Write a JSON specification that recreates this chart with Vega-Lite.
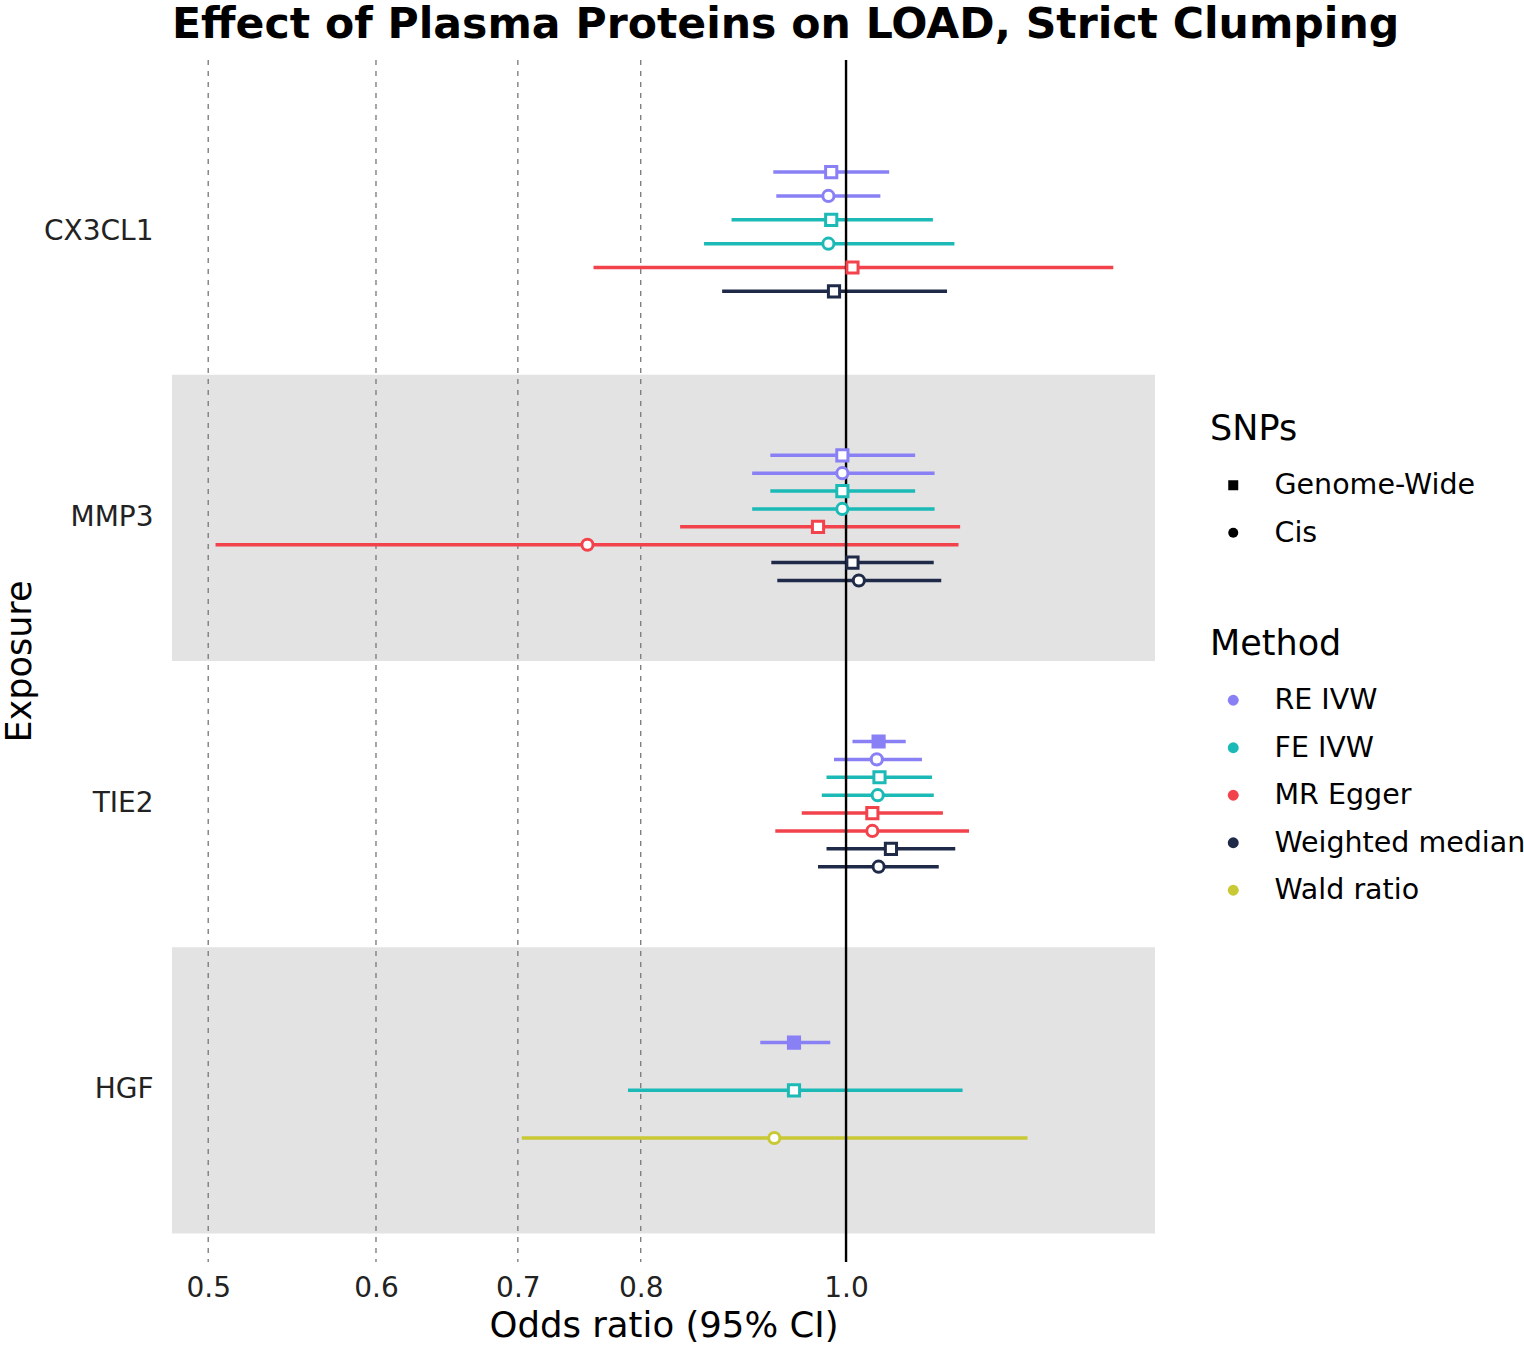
{
  "$schema": "https://vega.github.io/schema/vega-lite/v6.json",
  "width": 983,
  "height": 1202,
  "autosize": "none",
  "padding": {"left": 172, "top": 60, "right": 369, "bottom": 84},
  "background": "white",
  "title": {
    "text": "Effect of Plasma Proteins on LOAD, Strict Clumping",
    "anchor": "start",
    "frame": "group",
    "font": "DejaVu Sans",
    "fontSize": 42.6,
    "fontWeight": "bold",
    "color": "black",
    "offset": 12
  },
  "config": {
    "view": {"stroke": null},
    "font": "DejaVu Sans",
    "axis": {"grid": false, "domain": false, "ticks": false, "labelFont": "DejaVu Sans", "titleFont": "DejaVu Sans", "titleFontWeight": "normal", "titleColor": "black", "labelColor": "#222222"},
    "legend": {"labelLimit": 0}
  },
  "datasets": {
    "est": [
      {"Exposure": "CX3CL1", "Method": "RE IVW", "SNPs": "Genome-Wide", "Analysis": "RE IVW (Genome-Wide)", "OR": 0.984, "lo": 0.924, "hi": 1.048},
      {"Exposure": "CX3CL1", "Method": "RE IVW", "SNPs": "Cis", "Analysis": "RE IVW (Cis)", "OR": 0.981, "lo": 0.927, "hi": 1.038},
      {"Exposure": "CX3CL1", "Method": "FE IVW", "SNPs": "Genome-Wide", "Analysis": "FE IVW (Genome-Wide)", "OR": 0.984, "lo": 0.883, "hi": 1.099},
      {"Exposure": "CX3CL1", "Method": "FE IVW", "SNPs": "Cis", "Analysis": "FE IVW (Cis)", "OR": 0.981, "lo": 0.857, "hi": 1.125},
      {"Exposure": "CX3CL1", "Method": "MR Egger", "SNPs": "Genome-Wide", "Analysis": "MR Egger (Genome-Wide)", "OR": 1.007, "lo": 0.760, "hi": 1.337},
      {"Exposure": "CX3CL1", "Method": "Weighted median", "SNPs": "Genome-Wide", "Analysis": "Weighted median (Genome-Wide)", "OR": 0.987, "lo": 0.874, "hi": 1.116},
      {"Exposure": "MMP3", "Method": "RE IVW", "SNPs": "Genome-Wide", "Analysis": "RE IVW (Genome-Wide)", "OR": 0.996, "lo": 0.921, "hi": 1.078},
      {"Exposure": "MMP3", "Method": "RE IVW", "SNPs": "Cis", "Analysis": "RE IVW (Cis)", "OR": 0.996, "lo": 0.903, "hi": 1.101},
      {"Exposure": "MMP3", "Method": "FE IVW", "SNPs": "Genome-Wide", "Analysis": "FE IVW (Genome-Wide)", "OR": 0.996, "lo": 0.921, "hi": 1.078},
      {"Exposure": "MMP3", "Method": "FE IVW", "SNPs": "Cis", "Analysis": "FE IVW (Cis)", "OR": 0.996, "lo": 0.903, "hi": 1.101},
      {"Exposure": "MMP3", "Method": "MR Egger", "SNPs": "Genome-Wide", "Analysis": "MR Egger (Genome-Wide)", "OR": 0.970, "lo": 0.835, "hi": 1.132},
      {"Exposure": "MMP3", "Method": "MR Egger", "SNPs": "Cis", "Analysis": "MR Egger (Cis)", "OR": 0.755, "lo": 0.504, "hi": 1.130},
      {"Exposure": "MMP3", "Method": "Weighted median", "SNPs": "Genome-Wide", "Analysis": "Weighted median (Genome-Wide)", "OR": 1.007, "lo": 0.922, "hi": 1.100},
      {"Exposure": "MMP3", "Method": "Weighted median", "SNPs": "Cis", "Analysis": "Weighted median (Cis)", "OR": 1.014, "lo": 0.928, "hi": 1.109},
      {"Exposure": "TIE2", "Method": "RE IVW", "SNPs": "Genome-Wide", "Analysis": "RE IVW (Genome-Wide)", "OR": 1.036, "lo": 1.007, "hi": 1.067},
      {"Exposure": "TIE2", "Method": "RE IVW", "SNPs": "Cis", "Analysis": "RE IVW (Cis)", "OR": 1.034, "lo": 0.987, "hi": 1.086},
      {"Exposure": "TIE2", "Method": "FE IVW", "SNPs": "Genome-Wide", "Analysis": "FE IVW (Genome-Wide)", "OR": 1.037, "lo": 0.979, "hi": 1.098},
      {"Exposure": "TIE2", "Method": "FE IVW", "SNPs": "Cis", "Analysis": "FE IVW (Cis)", "OR": 1.035, "lo": 0.974, "hi": 1.100},
      {"Exposure": "TIE2", "Method": "MR Egger", "SNPs": "Genome-Wide", "Analysis": "MR Egger (Genome-Wide)", "OR": 1.029, "lo": 0.953, "hi": 1.111},
      {"Exposure": "TIE2", "Method": "MR Egger", "SNPs": "Cis", "Analysis": "MR Egger (Cis)", "OR": 1.029, "lo": 0.926, "hi": 1.143},
      {"Exposure": "TIE2", "Method": "Weighted median", "SNPs": "Genome-Wide", "Analysis": "Weighted median (Genome-Wide)", "OR": 1.050, "lo": 0.979, "hi": 1.126},
      {"Exposure": "TIE2", "Method": "Weighted median", "SNPs": "Cis", "Analysis": "Weighted median (Cis)", "OR": 1.036, "lo": 0.970, "hi": 1.106},
      {"Exposure": "HGF", "Method": "RE IVW", "SNPs": "Genome-Wide", "Analysis": "RE IVW (Genome-Wide)", "OR": 0.945, "lo": 0.911, "hi": 0.983},
      {"Exposure": "HGF", "Method": "FE IVW", "SNPs": "Genome-Wide", "Analysis": "FE IVW (Genome-Wide)", "OR": 0.945, "lo": 0.789, "hi": 1.135},
      {"Exposure": "HGF", "Method": "Wald ratio", "SNPs": "Cis", "Analysis": "Wald ratio (Cis)", "OR": 0.925, "lo": 0.703, "hi": 1.218}
    ],
    "bands": [{"Exposure": "MMP3"}, {"Exposure": "HGF"}],
    "refs": [{"ref": 0.5}, {"ref": 0.6}, {"ref": 0.7}, {"ref": 0.8}],
    "unity": [{"ref": 1.0}],
    "snps": [{"SNPs": "Genome-Wide"}, {"SNPs": "Cis"}]
  },
  "layer": [
    {
      "data": {"name": "bands"},
      "mark": {"type": "rect", "color": "#E3E3E3"},
      "encoding": {
        "y": {
          "field": "Exposure", "type": "nominal",
          "scale": {"domain": ["CX3CL1", "MMP3", "TIE2", "HGF"], "paddingInner": 0, "paddingOuter": 0.1},
          "axis": {"title": "Exposure", "labelPadding": 19, "labelFontSize": 28, "titleFontSize": 35, "titlePadding": 6}
        },
        "x": {"value": 0},
        "x2": {"value": "width"}
      }
    },
    {
      "data": {"name": "refs"},
      "mark": {"type": "rule", "color": "#808080", "strokeWidth": 1.4, "strokeDash": [5, 6]},
      "encoding": {
        "x": {
          "field": "ref", "type": "quantitative",
          "scale": {"type": "log", "domain": [0.4807, 1.399], "nice": false},
          "axis": {"title": "Odds ratio (95% CI)", "values": [0.5, 0.6, 0.7, 0.8, 1.0], "format": ".1f", "labelPadding": 12, "labelFontSize": 28, "labelFlush": false, "titleFontSize": 35.5, "titlePadding": 6}
        }
      }
    },
    {
      "data": {"name": "est"},
      "transform": [{"filter": "datum.Exposure === 'CX3CL1'"}],
      "mark": {"type": "rule", "strokeWidth": 3.5},
      "encoding": {
        "y": {"field": "Exposure", "type": "nominal"},
        "yOffset": {"field": "Analysis", "type": "nominal", "sort": null, "scale": {"type": "band", "paddingInner": 0, "paddingOuter": 0, "range": [{"expr": "bandwidth('y')*0.25"}, {"expr": "bandwidth('y')*0.75"}]}},
        "x": {"field": "lo", "type": "quantitative"},
        "x2": {"field": "hi"},
        "color": {"field": "Method", "type": "nominal", "scale": {"domain": ["RE IVW", "FE IVW", "MR Egger", "Weighted median", "Wald ratio"], "range": ["#8A80F5", "#1CBAB7", "#F2424C", "#1F2A48", "#C8C934"]}}
      }
    },
    {
      "data": {"name": "est"},
      "transform": [{"filter": "datum.Exposure === 'MMP3'"}],
      "mark": {"type": "rule", "strokeWidth": 3.5},
      "encoding": {
        "y": {"field": "Exposure", "type": "nominal"},
        "yOffset": {"field": "Analysis", "type": "nominal", "sort": null, "scale": {"type": "band", "paddingInner": 0, "paddingOuter": 0, "range": [{"expr": "bandwidth('y')*0.25"}, {"expr": "bandwidth('y')*0.75"}]}},
        "x": {"field": "lo", "type": "quantitative"},
        "x2": {"field": "hi"},
        "color": {"field": "Method", "type": "nominal"}
      }
    },
    {
      "data": {"name": "est"},
      "transform": [{"filter": "datum.Exposure === 'TIE2'"}],
      "mark": {"type": "rule", "strokeWidth": 3.5},
      "encoding": {
        "y": {"field": "Exposure", "type": "nominal"},
        "yOffset": {"field": "Analysis", "type": "nominal", "sort": null, "scale": {"type": "band", "paddingInner": 0, "paddingOuter": 0, "range": [{"expr": "bandwidth('y')*0.25"}, {"expr": "bandwidth('y')*0.75"}]}},
        "x": {"field": "lo", "type": "quantitative"},
        "x2": {"field": "hi"},
        "color": {"field": "Method", "type": "nominal"}
      }
    },
    {
      "data": {"name": "est"},
      "transform": [{"filter": "datum.Exposure === 'HGF'"}],
      "mark": {"type": "rule", "strokeWidth": 3.5},
      "encoding": {
        "y": {"field": "Exposure", "type": "nominal"},
        "yOffset": {"field": "Analysis", "type": "nominal", "sort": null, "scale": {"type": "band", "paddingInner": 0, "paddingOuter": 0, "range": [{"expr": "bandwidth('y')*0.25"}, {"expr": "bandwidth('y')*0.75"}]}},
        "x": {"field": "lo", "type": "quantitative"},
        "x2": {"field": "hi"},
        "color": {"field": "Method", "type": "nominal"}
      }
    },
    {
      "data": {"name": "unity"},
      "mark": {"type": "rule", "color": "black", "strokeWidth": 2.4},
      "encoding": {"x": {"field": "ref", "type": "quantitative"}}
    },
    {
      "data": {"name": "est"},
      "transform": [{"filter": "datum.Exposure === 'CX3CL1'"}],
      "mark": {"type": "point", "filled": false, "size": 125, "strokeWidth": 3, "opacity": 1},
      "encoding": {
        "y": {"field": "Exposure", "type": "nominal"},
        "yOffset": {"field": "Analysis", "type": "nominal", "sort": null, "scale": {"type": "band", "paddingInner": 0, "paddingOuter": 0, "range": [{"expr": "bandwidth('y')*0.25"}, {"expr": "bandwidth('y')*0.75"}]}},
        "x": {"field": "OR", "type": "quantitative"},
        "color": {"field": "Method", "type": "nominal"},
        "shape": {"field": "SNPs", "type": "nominal", "scale": {"domain": ["Genome-Wide", "Cis"], "range": ["square", "circle"]}, "legend": null},
        "fill": {"condition": {"test": "datum.hi < 1 || datum.lo > 1", "field": "Method", "type": "nominal", "scale": {"domain": ["RE IVW", "FE IVW", "MR Egger", "Weighted median", "Wald ratio"], "range": ["#8A80F5", "#1CBAB7", "#F2424C", "#1F2A48", "#C8C934"]}, "legend": null}, "value": "white"}
      }
    },
    {
      "data": {"name": "est"},
      "transform": [{"filter": "datum.Exposure === 'MMP3'"}],
      "mark": {"type": "point", "filled": false, "size": 125, "strokeWidth": 3, "opacity": 1},
      "encoding": {
        "y": {"field": "Exposure", "type": "nominal"},
        "yOffset": {"field": "Analysis", "type": "nominal", "sort": null, "scale": {"type": "band", "paddingInner": 0, "paddingOuter": 0, "range": [{"expr": "bandwidth('y')*0.25"}, {"expr": "bandwidth('y')*0.75"}]}},
        "x": {"field": "OR", "type": "quantitative"},
        "color": {"field": "Method", "type": "nominal"},
        "shape": {"field": "SNPs", "type": "nominal", "legend": null},
        "fill": {"condition": {"test": "datum.hi < 1 || datum.lo > 1", "field": "Method", "type": "nominal", "legend": null}, "value": "white"}
      }
    },
    {
      "data": {"name": "est"},
      "transform": [{"filter": "datum.Exposure === 'TIE2'"}],
      "mark": {"type": "point", "filled": false, "size": 125, "strokeWidth": 3, "opacity": 1},
      "encoding": {
        "y": {"field": "Exposure", "type": "nominal"},
        "yOffset": {"field": "Analysis", "type": "nominal", "sort": null, "scale": {"type": "band", "paddingInner": 0, "paddingOuter": 0, "range": [{"expr": "bandwidth('y')*0.25"}, {"expr": "bandwidth('y')*0.75"}]}},
        "x": {"field": "OR", "type": "quantitative"},
        "color": {"field": "Method", "type": "nominal"},
        "shape": {"field": "SNPs", "type": "nominal", "legend": null},
        "fill": {"condition": {"test": "datum.hi < 1 || datum.lo > 1", "field": "Method", "type": "nominal", "legend": null}, "value": "white"}
      }
    },
    {
      "data": {"name": "est"},
      "transform": [{"filter": "datum.Exposure === 'HGF'"}],
      "mark": {"type": "point", "filled": false, "size": 125, "strokeWidth": 3, "opacity": 1},
      "encoding": {
        "y": {"field": "Exposure", "type": "nominal"},
        "yOffset": {"field": "Analysis", "type": "nominal", "sort": null, "scale": {"type": "band", "paddingInner": 0, "paddingOuter": 0, "range": [{"expr": "bandwidth('y')*0.25"}, {"expr": "bandwidth('y')*0.75"}]}},
        "x": {"field": "OR", "type": "quantitative"},
        "color": {
          "field": "Method", "type": "nominal",
          "legend": {"title": "Method", "orient": "none", "legendX": 1038, "legendY": 567, "symbolType": "circle", "symbolSize": 120, "symbolStrokeWidth": 0, "symbolOffset": 9, "labelOffset": 27, "rowPadding": 18.5, "titlePadding": 24, "labelLimit": 0, "titleFont": "DejaVu Sans", "titleFontSize": 35, "titleFontWeight": "normal", "titleColor": "black", "labelFont": "DejaVu Sans", "labelFontSize": 28.5, "labelColor": "black", "encode": {"symbols": {"update": {"fill": {"scale": "color", "field": "value"}, "fillOpacity": {"value": 1}, "opacity": {"value": 1}}}}}
        },
        "shape": {"field": "SNPs", "type": "nominal", "legend": null},
        "fill": {"condition": {"test": "datum.hi < 1 || datum.lo > 1", "field": "Method", "type": "nominal", "legend": null}, "value": "white"}
      }
    },
    {
      "data": {"name": "snps"},
      "mark": {"type": "point", "filled": true, "color": "black", "size": 100, "opacity": 0},
      "encoding": {
        "shape": {
          "field": "SNPs", "type": "nominal",
          "legend": {"title": "SNPs", "orient": "none", "legendX": 1038, "legendY": 352, "symbolSize": 100, "symbolOpacity": 1, "symbolFillColor": "black", "symbolStrokeWidth": 0, "symbolOffset": 9, "labelOffset": 27, "rowPadding": 18.5, "titlePadding": 24, "labelLimit": 0, "titleFont": "DejaVu Sans", "titleFontSize": 35, "titleFontWeight": "normal", "titleColor": "black", "labelFont": "DejaVu Sans", "labelFontSize": 28.5, "labelColor": "black"}
        }
      }
    }
  ],
  "resolve": {"scale": {"yOffset": "independent"}, "legend": {"shape": "independent"}}
}
